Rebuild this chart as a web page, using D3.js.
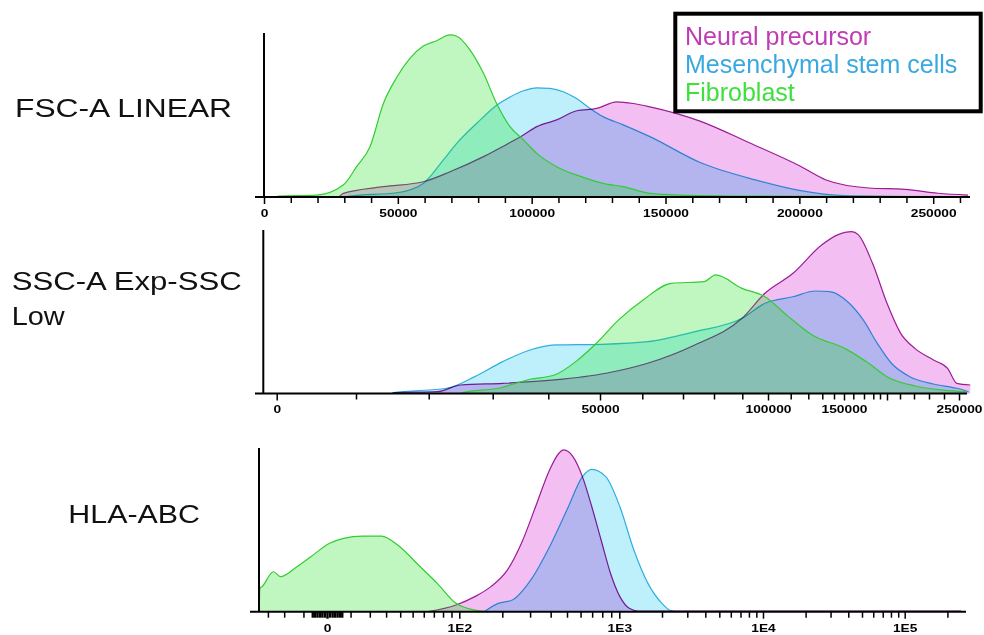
<!DOCTYPE html>
<html>
<head>
<meta charset="utf-8">
<title>FSC / SSC / HLA-ABC overlay histograms</title>
<style>
  body { margin: 0; background: #fff; }
  svg { display: block; font-family: "Liberation Sans", Arial, sans-serif; }
  .fill { stroke: none; }
  .line { fill: none; stroke-width: 1.2; stroke-linejoin: round; }
  .blend { mix-blend-mode: multiply; }
  .axis line { stroke: #000; stroke-width: 1.5; }
  .axis text { font-weight: bold; font-size: 11px; fill: #000; }
</style>
</head>
<body>
<script src="https://cdnjs.cloudflare.com/ajax/libs/d3/7.8.5/d3.min.js"></script>
<script>
// cell types, legend order
var cellTypes = ["Neural precursor", "Mesenchymal stem cells", "Fibroblast"];
var panelTitles = [["FSC-A LINEAR"], ["SSC-A Exp-SSC", "Low"], ["HLA-ABC"]];

// histograms: [channel value, % of panel max]
var fscNeural = [[28000,0],[29600,2.2],[44600,6.3],[59500,9.3],[69500,15.4],[82000,24.6],[89400,31],[96900,37.8],[101900,42.9],[109300,47],[116800,52.6],[124300,54],[131800,58],[138000,57],[144200,55],[162900,46.3],[181500,32.9],[200200,18.9],[210000,10.4],[226000,5.5],[239500,4.7],[251800,2.3],[263000,1.2]];
var fscMsc = [[30000,0],[32000,0.6],[49600,2.6],[59500,8.3],[67000,22.6],[72000,32.7],[79500,45],[86900,56],[91900,61],[96900,64.8],[101900,66.6],[106800,66.2],[111800,64.2],[116800,60],[121800,54],[126700,49],[134200,44],[144200,36.8],[163000,21],[183600,10.4],[200000,4],[217000,0.8],[240000,0.3],[257000,0.2]];
var fscFibro = [[5000,0],[5300,0.6],[19700,1.2],[29600,7.3],[34600,18.5],[39600,30.7],[44600,57],[49600,73],[54500,84.5],[59500,92],[64500,95.3],[69500,98.8],[72000,98],[77000,89.6],[82000,75.4],[86900,57],[91900,42.9],[96900,34.8],[101900,26.6],[109300,18.5],[119300,12],[126700,8.3],[134200,6.3],[144200,2.2],[155000,1.2],[180000,0.6],[220000,0.4],[262000,0.2]];

var sscNeural = [[15000,0],[15400,0.5],[21300,1.1],[25000,5.2],[31800,6.2],[41200,8.3],[51400,12.4],[61300,18.5],[73800,29.7],[89900,46],[98800,61.3],[111300,73.5],[129500,90.8],[143600,97],[158200,99],[164800,97],[179200,79.6],[200000,55.2],[210500,36.8],[220600,27.6],[233000,20.5],[242400,15.4],[248600,6.2],[257500,5.2]];
var sscMsc = [[15000,0],[15100,0.5],[22800,3.2],[27200,10.3],[31800,19.5],[36700,26.6],[41200,29.7],[50300,30.1],[61300,31.7],[73800,37.8],[89900,46],[98800,55.2],[111300,59.2],[125000,62.7],[136500,62.3],[155700,55.2],[169300,45],[186000,30.7],[203400,18.5],[217100,10.3],[233000,5.8],[248600,3.2],[256400,1.1]];
var sscFibro = [[25000,0],[25400,0.5],[31000,3.2],[36700,8.7],[41200,11.3],[45700,20.5],[49300,30.7],[54400,45],[60200,57.2],[67100,67.4],[76800,68.4],[80600,72.5],[89900,64.3],[98800,59.2],[109000,47],[122700,35.8],[150600,27.6],[175000,18.5],[200000,10.3],[220600,4.6],[239300,2.1],[254900,1.1]];

var hlaNeural = [[64,0],[95.7,4.1],[130,9.2],[168,15.3],[216,25.5],[265,41.8],[324,64.1],[394,86.6],[448,96.8],[478,98.8],[542,94.7],[615,82.5],[697,64.1],[788,43.8],[891,23.5],[1010,9.2],[1176,2.1],[1371,0.4],[3000,0.3],[30000,0.3],[250000,0.3]];
var hlaMsc = [[151,0],[188,5.1],[232,7.1],[303,19.4],[394,39.7],[509,64.1],[615,82.5],[697,87],[838,82.5],[1010,64.1],[1269,37.7],[1595,17.3],[2000,5.1],[2322,0.6],[2600,0.2],[250000,0.2]];
var hlaFibro = [[-36,0],[-35.5,14.3],[-34,15.3],[-26.4,24.4],[-22.2,21.4],[-13.2,27.5],[-6.6,33.6],[1,41.8],[6.8,44.8],[15.9,46.2],[26.9,46.2],[39.7,39.7],[55.1,28.5],[73.7,17.3],[95.7,5.1],[130,1],[163,0]];

// tick values and labels
var fscTicks = d3.range(0, 260001, 10000);
var fscLabelTicks = [0, 50000, 100000, 150000, 200000, 250000];
var sscTicks = d3.range(0, 250001, 10000);
var sscLabelTicks = [0, 50000, 100000, 150000, 250000];
var hlaDecades = [0, 100, 1000, 10000, 100000];
var hlaLabelTicks = [0, 100, 1000, 10000, 100000];
var hlaLabelText = ["0", "1E2", "1E3", "1E4", "1E5"];
var hlaTicks = [-30, -20, -10].concat(d3.range(-6, 7), d3.range(10, 100, 10));
[100, 1000, 10000].forEach(function(dec) {
  d3.range(1, 10).forEach(function(m) { hlaTicks.push(m * dec); });
});
hlaTicks.push(100000, 200000);

// ---- look ----
// neural + MSC multiply into lavender, fibroblast laid over them translucent
var fills = ["#f3bff3", "#bdf0fb", "rgb(10,225,10)"];
var fillOpacity = [1, 1, 0.26];
var strokes = ["#a0209a", "#38b4e0", "#33cc33"];
var legendColors = ["#c03cb4", "#3aa8e0", "#3ee03e"];

var W = 984, H = 635;
var svg = d3.select("body").append("svg").attr("width", W).attr("height", H);
svg.append("rect").attr("width", W).attr("height", H).attr("fill", "#fff");

// x scales
var xFsc = d3.scaleLinear().domain([0, 263000]).range([264, 968]);

// SSC "Exp" display is a compressed scale, read knot by knot off the axis
var sscKnotPx = [276.7,356,428.7,492.7,548.3,600,642.3,683,714,742.3,768,790.7,808.3,822.3,834,844,853.3,864,873.3,880,887,900,914,929,944,959];
var xSsc = d3.scaleLinear().domain(sscTicks).range(sscKnotPx);

// HLA: biexponential-like, symlog inside, decades placed as on the axis
var hlaDecadePx = [327, 459.3, 619.3, 763, 904.7];
var hlaInner = d3.scaleSymlog().constant(40).domain([0, 1]).range([0, Math.log1p(1 / 40)]);
var hlaOuter = d3.scaleLinear().domain(hlaDecades.map(hlaInner)).range(hlaDecadePx);
var xHla = function(v) { return hlaOuter(hlaInner(v)); };
xHla.copy = function() { return xHla; };
xHla.range = function() { return hlaOuter.range(); };
xHla.domain = function() { return hlaDecades; };

var panels = [
  { x: xFsc, y: d3.scaleLinear().domain([0, 100]).range([197, 33]),
    data: [fscNeural, fscMsc, fscFibro], ticks: fscTicks, labelTicks: fscLabelTicks,
    fmt: function(d) { return d; }, yAxisX: 264, axisX0: 255, axisX1: 970,
    title: { x: 15, y: 117.3, len: [217] } },
  { x: xSsc, y: d3.scaleLinear().domain([0, 100]).range([393.5, 230]),
    data: [sscNeural, sscMsc, sscFibro], ticks: sscTicks, labelTicks: sscLabelTicks,
    fmt: function(d) { return d; }, yAxisX: 263.3, axisX0: 255, axisX1: 967,
    title: { x: 11.7, y: 290, len: [230, 53] } },
  { x: xHla, y: d3.scaleLinear().domain([0, 100]).range([611.7, 448]),
    data: [hlaNeural, hlaMsc, hlaFibro], ticks: hlaTicks, labelTicks: hlaLabelTicks,
    fmt: function(d) { return hlaLabelText[hlaLabelTicks.indexOf(d)]; }, yAxisX: 259, axisX0: 250, axisX1: 966,
    title: { x: 68.3, y: 523.3, len: [131.7] } }
];

panels.forEach(function(p, pi) {
  var g = svg.append("g");
  var base = p.y(0);

  var area = d3.area().curve(d3.curveMonotoneX)
    .x(function(d) { return p.x(d[0]); })
    .y0(base)
    .y1(function(d) { return p.y(d[1]); });
  var line = d3.line().curve(d3.curveMonotoneX)
    .x(function(d) { return p.x(d[0]); })
    .y(function(d) { return p.y(d[1]); });

  // neural precursor and MSC first (multiplied), fibroblast on top
  [0, 1].forEach(function(i) {
    g.append("path").attr("class", "fill blend").attr("d", area(p.data[i])).attr("fill", fills[i]);
  });
  [0, 1].forEach(function(i) {
    g.append("path").attr("class", "line blend").attr("d", line(p.data[i])).attr("stroke", strokes[i]);
  });
  g.append("path").attr("class", "fill").attr("d", area(p.data[2]))
    .attr("fill", fills[2]).attr("fill-opacity", fillOpacity[2]);
  g.append("path").attr("class", "line").attr("d", line(p.data[2])).attr("stroke", strokes[2]);

  // baseline and y axis line
  g.append("line").attr("x1", p.axisX0).attr("x2", p.axisX1)
    .attr("y1", base).attr("y2", base).attr("stroke", "#000").attr("stroke-width", 2);
  g.append("line").attr("x1", p.yAxisX).attr("x2", p.yAxisX)
    .attr("y1", p.y(100)).attr("y2", base).attr("stroke", "#000").attr("stroke-width", 2);

  var ax = g.append("g").attr("class", "axis")
    .attr("transform", "translate(0," + base + ")")
    .call(d3.axisBottom(p.x).tickValues(p.ticks).tickSize(6).tickSizeOuter(0).tickPadding(6)
      .tickFormat(function(d) { return p.labelTicks.indexOf(d) >= 0 ? p.fmt(d) : ""; }));
  ax.select(".domain").remove();
  ax.selectAll(".tick").filter(function(d) { return p.labelTicks.indexOf(d) >= 0; })
    .select("line").attr("y2", 7);
  ax.selectAll(".tick text").attr("transform", "scale(1.25,1)");
  if (pi === 1) {
    // unlabeled long tick at 200000
    ax.selectAll(".tick").filter(function(d) { return d === 200000; }).select("line").attr("y2", 7);
  }
  if (pi === 2) {
    // the crowded ticks round zero merge into a dark block
    ax.selectAll(".tick").filter(function(d) { return Math.abs(d) <= 6; })
      .select("line").style("stroke-width", 2.4);
  }

  // panel title
  panelTitles[pi].forEach(function(t, k) {
    svg.append("text").attr("x", p.title.x).attr("y", p.title.y + k * 35)
      .attr("font-size", 25).attr("fill", "#111")
      .attr("textLength", p.title.len[k]).attr("lengthAdjust", "spacingAndGlyphs")
      .text(t);
  });
});

// legend
var lg = svg.append("g");
lg.append("rect").attr("x", 675.3).attr("y", 13.7).attr("width", 305.4).attr("height", 97.6)
  .attr("fill", "#fff").attr("stroke", "#000").attr("stroke-width", 4);
cellTypes.forEach(function(name, i) {
  lg.append("text").attr("x", 685).attr("y", 45 + i * 27.8)
    .attr("font-size", 25).attr("fill", legendColors[i]).text(name);
});
</script>
</body>
</html>
